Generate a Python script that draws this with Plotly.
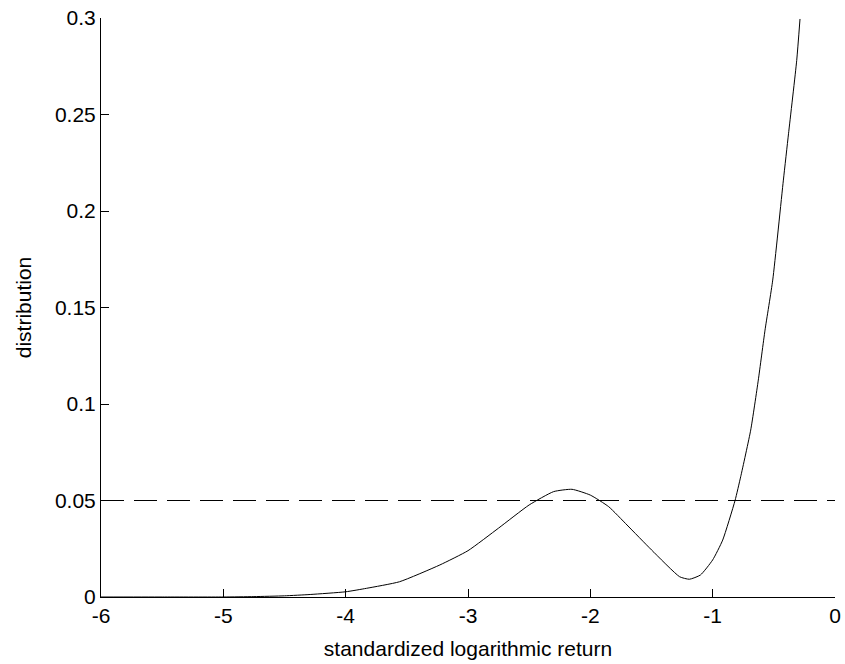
import plotly.graph_objects as go

# Curve data
x_vals = [-6.0, -5.5, -5.0, -4.75, -4.5, -4.29, -4.0, -3.83, -3.56, -3.23, -3.0,
          -2.75, -2.5, -2.3, -2.15, -2.0, -1.85, -1.7, -1.5, -1.27, -1.19, -1.1,
          -1.0, -0.918, -0.817, -0.771, -0.689, -0.627, -0.572, -0.509,
          -0.422, -0.38, -0.313, -0.286]
y_vals = [0.0, 0.0, 0.0, 0.0002, 0.0006, 0.0013, 0.0027, 0.0045, 0.0079, 0.0166, 0.024,
          0.0357, 0.0477, 0.0546, 0.0558, 0.0528, 0.0468, 0.0373, 0.0244, 0.0105, 0.0092, 0.0114,
          0.0192, 0.0295, 0.050, 0.0623, 0.0865, 0.1124, 0.1383, 0.1642,
          0.216, 0.240, 0.278, 0.2995]

threshold = 0.05
threshold_x = [-6.0, 0.0]

x_ticks = [-6, -5, -4, -3, -2, -1, 0]
x_tick_labels = ["-6", "-5", "-4", "-3", "-2", "-1", "0"]
y_ticks = [0, 0.05, 0.1, 0.15, 0.2, 0.25, 0.3]
y_tick_labels = ["0", "0.05", "0.1", "0.15", "0.2", "0.25", "0.3"]

fig = go.Figure()
fig.add_trace(go.Scatter(
    x=threshold_x, y=[threshold, threshold], mode="lines",
    line=dict(color="black", width=1, dash="23px,10px"),
    hoverinfo="skip", showlegend=False))
fig.add_trace(go.Scatter(
    x=x_vals, y=y_vals, mode="lines",
    line=dict(color="black", width=1, shape="spline", smoothing=0.5),
    showlegend=False))

font = dict(family="Liberation Sans, Arial, sans-serif", size=21, color="black")

fig.update_layout(
    width=845, height=664,
    margin=dict(l=101, r=10, t=18, b=67, autoexpand=False),
    paper_bgcolor="white", plot_bgcolor="white",
    font=font,
    xaxis=dict(
        range=[-6, 0], tickvals=x_ticks, ticktext=x_tick_labels,
        showline=True, linecolor="black", linewidth=1,
        ticks="inside", ticklen=8, tickcolor="black", tickwidth=1,
        showgrid=False, zeroline=False,
        title=dict(text="standardized logarithmic return", font=font, standoff=15),
        tickfont=font, automargin=False, ticklabeloverflow="allow",
    ),
    yaxis=dict(
        range=[0, 0.3], tickvals=y_ticks, ticktext=y_tick_labels,
        showline=True, linecolor="black", linewidth=1,
        ticks="inside", ticklen=8, tickcolor="black", tickwidth=1,
        showgrid=False, zeroline=False,
        title=dict(text="distribution", font=font, standoff=17),
        tickfont=font, automargin=False, ticklabeloverflow="allow",
    ),
)

fig.write_html(
    "out.html",
    config={"displayModeBar": False},
    post_script="document.body.style.margin='0';document.body.style.overflow='hidden';",
)
